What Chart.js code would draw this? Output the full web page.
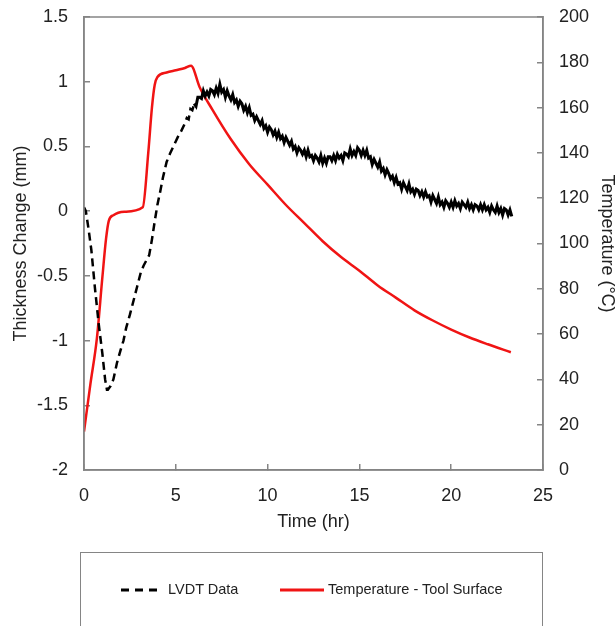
<!DOCTYPE html>
<html>
<head>
<meta charset="utf-8">
<script src="https://cdn.jsdelivr.net/npm/chart.js@4.4.1/dist/chart.umd.min.js"></script>
<style>
html, body { margin: 0; padding: 0; background: #fff; }
#wrap { position: relative; width: 615px; height: 626px; overflow: hidden; }
#legend {
    position: absolute; left: 80px; top: 552px; width: 463px; height: 120px;
    border: 1.5px solid #858585; box-sizing: border-box;
    font-family: "Liberation Sans", Arial, sans-serif; font-size: 14.5px; color: #222;
}
.item { position: absolute; top: 28px; display: flex; align-items: center; line-height: 17px; }
.item svg { margin-right: 4px; }
</style>
</head>
<body>
<div id="wrap">
    <canvas id="lvdtChart"></canvas>
    <div id="legend">
        <div class="item" style="left:39px">
            <svg width="44" height="6"><line x1="1" y1="3" x2="43" y2="3" stroke="#000" stroke-width="3" stroke-dasharray="8,6"></line></svg>LVDT Data
        </div>
        <div class="item" style="left:199px">
            <svg width="44" height="6"><line x1="0" y1="3" x2="44" y2="3" stroke="#f01414" stroke-width="3"></line></svg>Temperature - Tool Surface
        </div>
    </div>
</div>
<script>
// axis ticks
var timeTicks = [0, 5, 10, 15, 20, 25];
var thicknessTicks = [-2, -1.5, -1, -0.5, 0, 0.5, 1, 1.5];
var tempTicks = [0, 20, 40, 60, 80, 100, 120, 140, 160, 180, 200];

// Temperature - Tool Surface (deg C)
var tempTime = [0, 0.35, 0.7, 1.0, 1.2, 1.35, 1.6, 2.2, 3.2, 3.5, 3.7, 3.85, 4.0, 4.5, 5.0, 5.5, 5.83,
    6.3, 7.0, 8.0, 9.0, 10.0, 11.0, 12.0, 13.0, 14.0, 15.0, 16.0, 17.0, 18.0, 19.0, 20.0, 21.0, 22.0, 23.25];
var tempValues = [17, 38, 58, 85, 102, 110, 112.5, 114, 116, 140, 160, 170, 173.5, 175.5, 176.5, 177.5, 178.5,
    169, 159, 146, 135, 126, 117, 109, 101, 94, 88, 81.5, 76, 70.5, 66, 62, 58.5, 55.5, 52];

// LVDT data (mm)
var lvdtTime = [0, 0.1, 0.25, 0.4, 0.6, 0.8, 1.0, 1.15, 1.25, 1.3, 1.45, 1.6, 1.8, 2.0, 2.15, 2.3, 2.5, 2.7,
    2.9, 3.1, 3.25, 3.4, 3.55, 3.7, 3.85, 4.0, 4.15, 4.3, 4.5, 4.7, 4.9, 5.1, 5.3, 5.5,
    5.6, 5.7, 5.8, 5.9, 6.0, 6.1, 6.2, 6.3, 6.4, 6.5, 6.6, 6.7, 6.8, 6.9, 7.0, 7.1, 7.2, 7.3, 7.4, 7.5,
    7.6, 7.7, 7.8, 7.9, 8.0, 8.1, 8.2, 8.3, 8.4, 8.5, 8.6, 8.7, 8.8, 8.9, 9.0, 9.1, 9.2, 9.3, 9.4, 9.5,
    9.6, 9.7, 9.8, 9.9, 10.0, 10.1, 10.2, 10.3, 10.4, 10.5, 10.6, 10.7, 10.8, 10.9, 11.0, 11.1, 11.2, 11.3,
    11.4, 11.5, 11.6, 11.7, 11.8, 11.9, 12.0, 12.1, 12.2, 12.3, 12.4, 12.5, 12.6, 12.7, 12.8, 12.9, 13.0,
    13.1, 13.2, 13.3, 13.4, 13.5, 13.6, 13.7, 13.8, 13.9, 14.0, 14.1, 14.2, 14.3, 14.4, 14.5, 14.6, 14.7,
    14.8, 14.9, 15.0, 15.1, 15.2, 15.3, 15.4, 15.5, 15.6, 15.7, 15.8, 15.9, 16.0, 16.1, 16.2, 16.3, 16.4,
    16.5, 16.6, 16.7, 16.8, 16.9, 17.0, 17.1, 17.2, 17.3, 17.4, 17.5, 17.6, 17.7, 17.8, 17.9, 18.0, 18.1,
    18.2, 18.3, 18.4, 18.5, 18.6, 18.7, 18.8, 18.9, 19.0, 19.1, 19.2, 19.3, 19.4, 19.5, 19.6, 19.7, 19.8,
    19.9, 20.0, 20.1, 20.2, 20.3, 20.4, 20.5, 20.6, 20.7, 20.8, 20.9, 21.0, 21.1, 21.2, 21.3, 21.4, 21.5,
    21.6, 21.7, 21.8, 21.9, 22.0, 22.1, 22.2, 22.3, 22.4, 22.5, 22.6, 22.7, 22.8, 22.9, 23.0, 23.1, 23.2, 23.3];
var lvdtValues = [0.03, 0.0, -0.14, -0.3, -0.6, -0.87, -1.1, -1.3, -1.38, -1.38, -1.35, -1.3, -1.17, -1.07,
    -1.0, -0.9, -0.8, -0.69, -0.58, -0.47, -0.42, -0.38, -0.34, -0.22, -0.08, 0.05, 0.15, 0.26, 0.38, 0.45,
    0.51, 0.57, 0.62, 0.68,
    0.72, 0.71, 0.79, 0.78, 0.83, 0.81, 0.88, 0.88, 0.87, 0.93, 0.89, 0.92, 0.89, 0.94, 0.93, 0.90, 0.95, 0.91,
    0.98, 0.92, 0.94, 0.88, 0.93, 0.89, 0.86, 0.90, 0.84, 0.86, 0.81, 0.85, 0.83, 0.78, 0.81, 0.76, 0.80, 0.74,
    0.75, 0.70, 0.73, 0.70, 0.67, 0.70, 0.64, 0.66, 0.61, 0.65, 0.63, 0.59, 0.62, 0.57, 0.61, 0.56, 0.58, 0.53,
    0.57, 0.54, 0.51, 0.54, 0.48, 0.50, 0.45, 0.49, 0.47, 0.44, 0.47, 0.42, 0.47, 0.42, 0.43, 0.39, 0.43, 0.41,
    0.38, 0.43, 0.37, 0.41, 0.37, 0.42, 0.42, 0.39, 0.43, 0.39, 0.44, 0.41, 0.43, 0.39, 0.45, 0.44, 0.42, 0.48,
    0.43, 0.46, 0.43, 0.49, 0.47, 0.43, 0.47, 0.43, 0.47, 0.41, 0.42, 0.36, 0.40, 0.37, 0.34, 0.38, 0.31, 0.33,
    0.28, 0.32, 0.29, 0.25, 0.27, 0.22, 0.26, 0.21, 0.22, 0.17, 0.22, 0.19, 0.16, 0.21, 0.15, 0.17, 0.13, 0.17,
    0.16, 0.12, 0.15, 0.11, 0.15, 0.11, 0.12, 0.07, 0.12, 0.09, 0.06, 0.11, 0.05, 0.07, 0.03, 0.08, 0.06, 0.03,
    0.07, 0.03, 0.08, 0.04, 0.06, 0.02, 0.07, 0.05, 0.03, 0.07, 0.02, 0.05, 0.01, 0.05, 0.04, 0.01, 0.05, 0.01,
    0.05, 0.01, 0.03, -0.01, 0.04, 0.01, -0.01, 0.04, -0.01, 0.02, -0.03, 0.02, 0.01, -0.03, 0.01, -0.04];

var fontFamily = '"Liberation Sans", Arial, sans-serif';
var axisGrey = '#858585';
var textColor = '#222';

function toPoints(xs, ys) {
    return xs.map(function (x, i) { return { x: x, y: ys[i] }; });
}

function fixedTicks(list) {
    return function (scale) {
        scale.ticks = list.map(function (v) { return { value: v }; });
    };
}

function axisStyle() {
    return {
        grid: { drawOnChartArea: false, drawTicks: true, tickLength: -6, color: axisGrey, lineWidth: 1.5 },
        border: { display: true, color: axisGrey, width: 1.5 },
        ticks: {
            padding: 22, color: textColor, font: { family: fontFamily, size: 18 },
            callback: function (v) { return String(v); }
        }
    };
}

var xAxis = axisStyle();
xAxis.type = 'linear';
xAxis.position = 'bottom';
xAxis.min = 0;
xAxis.max = 25;
xAxis.ticks.padding = 21;
xAxis.afterBuildTicks = fixedTicks(timeTicks);
xAxis.afterFit = function (scale) { scale.height = 80; };
xAxis.title = { display: true, text: 'Time (hr)', color: textColor, font: { family: fontFamily, size: 18 }, padding: { top: 0, bottom: 17 } };

var yAxis = axisStyle();
yAxis.type = 'linear';
yAxis.position = 'left';
yAxis.min = -2;
yAxis.max = 1.5;
yAxis.afterBuildTicks = fixedTicks(thicknessTicks);
yAxis.afterFit = function (scale) { scale.width = 84; scale.paddingTop = 0; scale.paddingBottom = 0; };
yAxis.title = { display: true, text: 'Thickness Change (mm)', color: textColor, font: { family: fontFamily, size: 18 }, padding: { top: 10, bottom: 0 } };

var y1Axis = axisStyle();
y1Axis.type = 'linear';
y1Axis.position = 'right';
y1Axis.min = 0;
y1Axis.max = 200;
y1Axis.afterBuildTicks = fixedTicks(tempTicks);
y1Axis.afterFit = function (scale) { scale.width = 72; scale.paddingTop = 0; scale.paddingBottom = 0; };
y1Axis.title = { display: true, text: 'Temperature (°C)', color: textColor, font: { family: fontFamily, size: 18 }, padding: { top: -3, bottom: 0 } };

// box round the plot area
var frame = {
    id: 'frame',
    afterDraw: function (chart) {
        var a = chart.chartArea;
        var ctx = chart.ctx;
        ctx.save();
        ctx.strokeStyle = axisGrey;
        ctx.lineWidth = 1.5;
        ctx.strokeRect(a.left, a.top, a.right - a.left, a.bottom - a.top);
        ctx.restore();
    }
};

var ctx = document.getElementById('lvdtChart').getContext('2d');
var chart = new Chart(ctx, {
    type: 'line',
    data: {
        datasets: [
            {
                label: 'LVDT Data',
                data: toPoints(lvdtTime, lvdtValues),
                yAxisID: 'y',
                borderColor: '#000',
                borderWidth: 2.5,
                pointRadius: 0,
                tension: 0,
                segment: {
                    borderDash: function (c) { return c.p0.parsed.x < 6 ? [8, 5] : []; },
                    borderWidth: function (c) { return c.p0.parsed.x < 6 ? 2.5 : 3; }
                }
            },
            {
                label: 'Temperature - Tool Surface',
                data: toPoints(tempTime, tempValues),
                yAxisID: 'y1',
                borderColor: '#f01414',
                borderWidth: 2.5,
                pointRadius: 0,
                tension: 0.3,
                cubicInterpolationMode: 'monotone'
            }
        ]
    },
    options: {
        responsive: true,
        maintainAspectRatio: false,
        animation: false,
        layout: { padding: { top: 17, bottom: 76, left: 0, right: 0 } },
        plugins: { legend: { display: false }, tooltip: { enabled: false } },
        scales: { x: xAxis, y: yAxis, y1: y1Axis }
    },
    plugins: [frame]
});
</script>
</body>
</html>
